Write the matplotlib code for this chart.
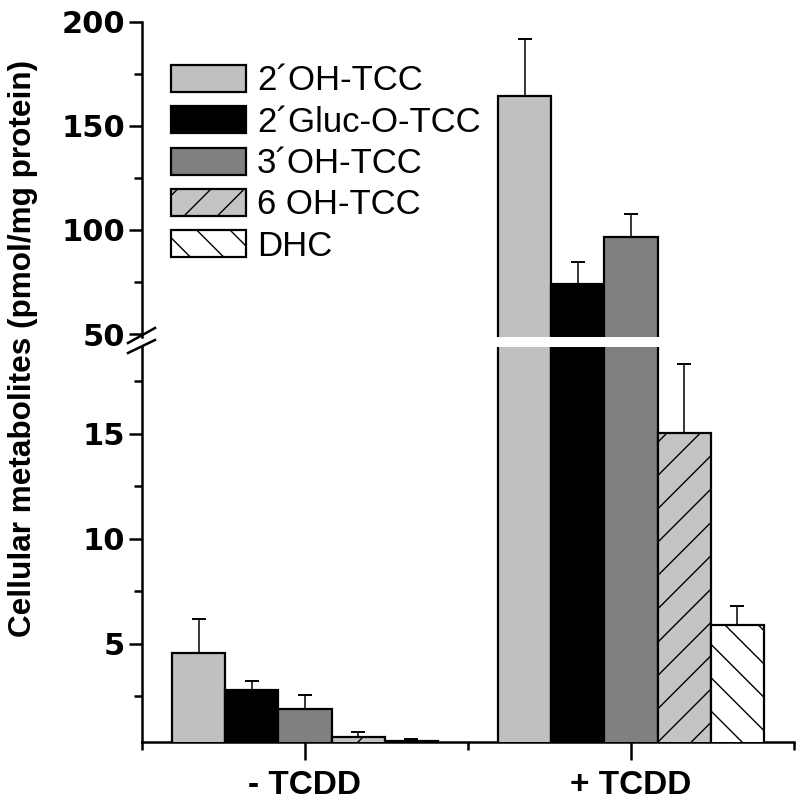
import matplotlib.pyplot as plt
import matplotlib as mpl
import numpy as np
from matplotlib.lines import Line2D

# data
groups = ['- TCDD', '+ TCDD']
metabolites = ['2\u00b4OH-TCC', '2\u00b4Gluc-O-TCC', '3\u00b4OH-TCC', '6 OH-TCC', 'DHC']
minus_tcdd = [4.57, 2.81, 1.90, 0.57, 0.36]
minus_err = [6.19, 3.24, 2.57, 0.81, 0.48]   # top of error bar
plus_tcdd = [164.3, 74.0, 96.7, 15.05, 5.9]
plus_err = [191.6, 84.7, 107.6, 18.33, 6.81]

colors = ['#c0c0c0', '#000000', '#808080', '#c4c4c4', '#ffffff']
hatches = ['', '', '', '/', '\\']

mpl.rcParams['hatch.linewidth'] = 1.0
mpl.rcParams['font.family'] = ['Liberation Sans', 'DejaVu Sans']

W, H = 800, 807
fig = plt.figure(figsize=(8, 8.07), dpi=100)

def fr(px_left, px_top, px_right, px_bottom):
    return [px_left / W, 1 - px_bottom / H, (px_right - px_left) / W, (px_bottom - px_top) / H]

ax_lo = fig.add_axes(fr(142, 347, 794, 742))
ax_hi = fig.add_axes(fr(142, 21.7, 794, 337))

means = np.array([minus_tcdd, plus_tcdd])
tops = np.array([minus_err, plus_err])
xg = np.arange(len(groups))
bw = 0.1626

for ax in (ax_lo, ax_hi):
    for i in range(len(metabolites)):
        xpos = xg + (i - 2) * bw
        ax.bar(xpos, means[:, i], width=bw, color=colors[i], edgecolor='black',
               linewidth=1.6, hatch=hatches[i], zorder=3, label=metabolites[i])
        ax.errorbar(xpos, means[:, i], yerr=[np.zeros(2), tops[:, i] - means[:, i]],
                    fmt='none', ecolor='black', elinewidth=1.1, capsize=5, capthick=1.4, zorder=2)
    ax.set_xlim(-0.5, 1.5)
    ax.spines['top'].set_visible(False)
    ax.spines['right'].set_visible(False)
    ax.spines['left'].set_linewidth(1.8)
    ax.spines['bottom'].set_linewidth(1.8)
    ax.tick_params(axis='y', which='major', length=9.5, width=1.8, pad=2.5)
    ax.tick_params(axis='y', which='minor', length=6, width=1.8)

tick_font = dict(family='DejaVu Sans', fontweight='bold', fontsize=22)

ax_lo.set_ylim(0.333, 19.14)
ax_lo.set_yticks([5, 10, 15])
ax_lo.set_yticks([2.5, 7.5, 12.5, 17.5], minor=True)
ax_lo.set_yticklabels(['5', '10', '15'], **tick_font)

ax_hi.set_ylim(48.56, 200)
ax_hi.set_yticks([50, 100, 150, 200])
ax_hi.set_yticks([75, 125, 175], minor=True)
ax_hi.set_yticklabels(['50', '100', '150', '200'], **tick_font)
ax_hi.spines['bottom'].set_visible(False)
ax_hi.set_xticks([])

ax_lo.set_xticks(xg)
ax_lo.set_xticklabels(groups, fontsize=24, fontweight='bold')
ax_lo.set_xticks([-0.5, 0.5, 1.5], minor=True)
ax_lo.tick_params(axis='x', which='major', length=13, width=1.8, pad=7)
ax_lo.tick_params(axis='x', which='minor', length=6, width=1.8)

# axis break marks
for y0, y1 in [(343, 328), (353, 340)]:
    fig.add_artist(Line2D([128 / W, 155 / W], [1 - y0 / H, 1 - y1 / H],
                          color='black', linewidth=1.8))

fig.text(23 / W, 1 - 348 / H, 'Cellular metabolites (pmol/mg protein)',
         rotation=90, ha='center', va='center', fontsize=22.7, fontweight='bold')

h, l = ax_hi.get_legend_handles_labels()
leg = ax_hi.legend(h, l, loc='upper left', bbox_to_anchor=(171 / W, 1 - 64.5 / H),
                   bbox_transform=fig.transFigure, frameon=False, fontsize=25,
                   handlelength=2.16, handleheight=0.82, handletextpad=0.32,
                   labelspacing=0.24, borderpad=0, borderaxespad=0)

fig.savefig('out.png', dpi=100)
